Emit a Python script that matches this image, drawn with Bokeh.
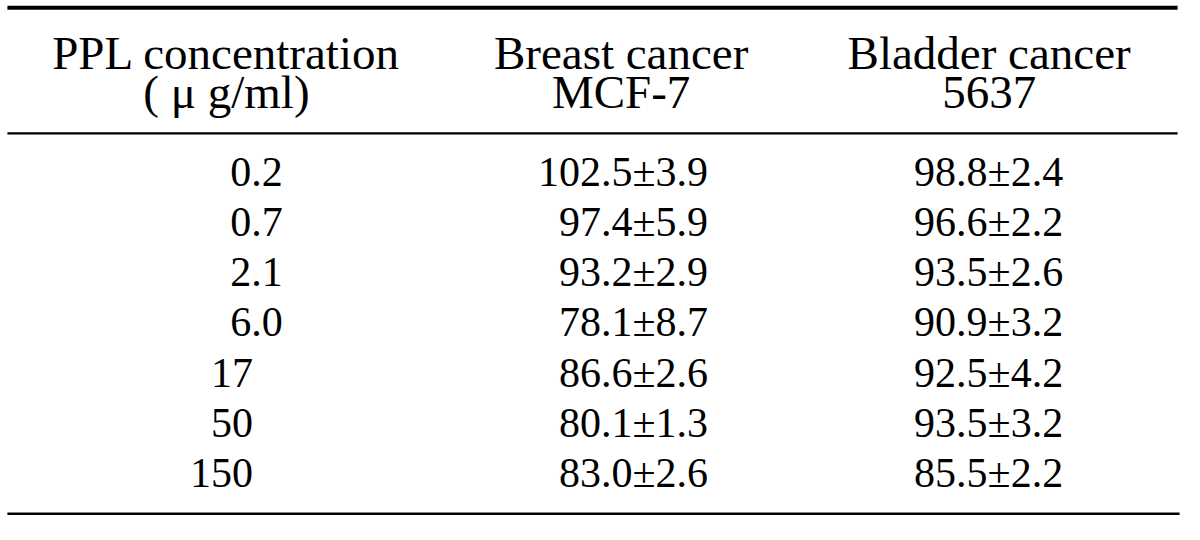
from bokeh.plotting import figure
from bokeh.models import Range1d, ColumnDataSource
from bokeh.core.properties import value
from bokeh.embed import file_html
from bokeh.resources import INLINE

# ---- data ----
concentrations = ["0.2", "0.7", "2.1", "6.0", "17", "50", "150"]
breast_mean = [102.5, 97.4, 93.2, 78.1, 86.6, 80.1, 83.0]
breast_sd = [3.9, 5.9, 2.9, 8.7, 2.6, 1.3, 2.6]
bladder_mean = [98.8, 96.6, 93.5, 90.9, 92.5, 93.5, 85.5]
bladder_sd = [2.4, 2.2, 2.6, 3.2, 4.2, 3.2, 2.2]
header_line1 = ["PPL concentration", "Breast cancer", "Bladder cancer"]
header_line2 = ["( \u03bc g/ml)", "MCF-7", "5637"]

FONT = "Liberation Serif"
W, H = 1184, 524
HDR_SIZE, BODY_SIZE = 47, 42

p = figure(width=W, height=H, output_backend="svg", toolbar_location=None,
           x_range=Range1d(0, 1200), y_range=Range1d(540, 0),
           min_border=0, min_border_left=0, min_border_right=0,
           min_border_top=0, min_border_bottom=0)
p.axis.visible = False
p.grid.visible = False
p.outline_line_color = None
p.background_fill_color = "white"
p.border_fill_color = "white"

# rules
p.segment(x0=[7], x1=[1193], y0=[7.5], y1=[7.5], line_color="black", line_width=4)
p.segment(x0=[7], x1=[1193], y0=[137], y1=[137], line_color="black", line_width=2.2)
p.segment(x0=[7], x1=[1195], y0=[529], y1=[529], line_color="black", line_width=2.5)

# baseline correction (text renders ~0.36 em below the anchor)
def shift(size):
    return 0.36 * size * 540 / H

# header
col_centers = [229, 629, 1002]
hdr = ColumnDataSource(dict(x=col_centers * 2,
                            y=[72 - shift(HDR_SIZE)] * 3 + [112 - shift(HDR_SIZE)] * 3,
                            t=header_line1 + header_line2))
p.text(x="x", y="y", text="t", source=hdr, text_align="center",
       text_baseline="alphabetic", text_font=value(FONT),
       text_font_size=f"{HDR_SIZE}px", text_color="black")

# body
row0, row_step = 192, 51.8
ys = [row0 + i * row_step - shift(BODY_SIZE) for i in range(len(concentrations))]
c1x = [286 if "." in c else 256 for c in concentrations]
breast_txt = [f"{m:.1f}\u00b1{s:.1f}" for m, s in zip(breast_mean, breast_sd)]
bladder_txt = [f"{m:.1f}\u00b1{s:.1f}" for m, s in zip(bladder_mean, bladder_sd)]
n = len(concentrations)
body = ColumnDataSource(dict(
    x=c1x + [717] * n + [1077] * n,
    y=ys * 3,
    t=concentrations + breast_txt + bladder_txt))
p.text(x="x", y="y", text="t", source=body, text_align="right",
       text_baseline="alphabetic", text_font=value(FONT),
       text_font_size=f"{BODY_SIZE}px", text_color="black")

open("out.html", "w").write(file_html(p, INLINE))
